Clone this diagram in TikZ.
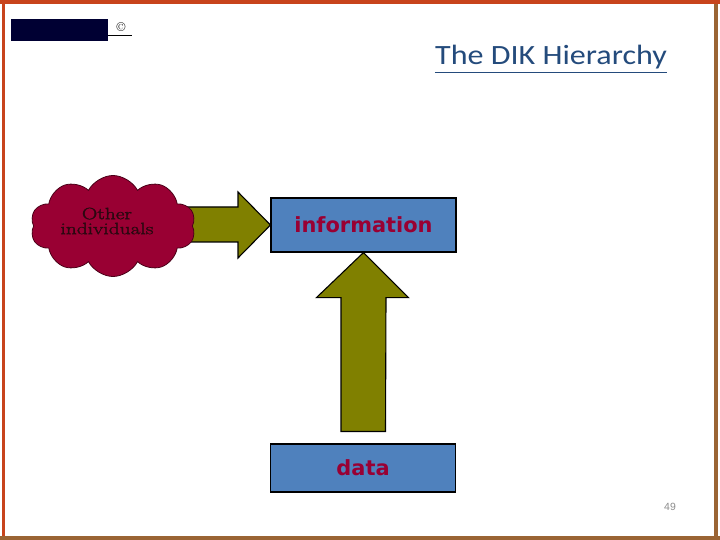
\documentclass[tikz,border=0pt]{standalone}
\usepackage{fontspec}
\usepackage{graphicx}
\usetikzlibrary{shapes.symbols,calc}
\newfontfamily\titlefont[FakeStretch=1.15]{Carlito}
\newfontfamily\boxfont{DejaVu Sans}
\newfontfamily\numfont{Liberation Sans}
\newfontfamily\cloudfont[FakeBold=1.5]{Latin Modern Roman}
\definecolor{frameRed}{HTML}{C8441C}
\definecolor{frameBrown}{HTML}{9A6434}
\definecolor{logoNavy}{HTML}{000033}
\definecolor{titleBlue}{HTML}{244B7C}
\definecolor{crimson}{HTML}{990033}
\definecolor{cloudEdge}{HTML}{4A0018}
\definecolor{cloudText}{HTML}{2A0810}
\definecolor{boxBlue}{HTML}{4F81BD}
\definecolor{arrowOlive}{HTML}{808000}
\definecolor{numGray}{HTML}{8C8C8C}
\tikzset{
  levelbox/.style={draw=black, line width=1.1bp, fill=boxBlue, inner sep=0,
    minimum width=185bp, text=crimson, font=\boxfont\bfseries\fontsize{21}{24}\selectfont},
  blockarrow/.style={fill=arrowOlive, draw=black, line width=1.1bp, line join=miter},
}
\begin{document}
\begin{tikzpicture}[x=1bp,y=-1bp]
\useasboundingbox (0,0) rectangle (720,540);
\fill[white] (0,0) rectangle (720,540);
% frame
\draw[frameRed, line width=4bp] (0,2) -- (720,2);
\draw[frameRed, line width=3.5bp] (3.5,0) -- (3.5,540);
\draw[frameBrown, line width=4bp] (716,4) -- (716,540);
\draw[frameBrown, line width=4bp] (0,537.5) -- (720,537.5);
% logo
\node[fill=logoNavy, minimum width=97bp, minimum height=22bp, inner sep=0, anchor=north west] (logo) at (11,19) {};
\node[inner sep=0] (copy) at (121,27) {\fontsize{13}{13}\selectfont\textcopyright};
\coordinate (ulend) at (132,35.5);
\draw[line width=1.3bp] (logo.east |- ulend) -- (ulend);
% title
\node[inner sep=0, anchor=base, text=titleBlue, font=\titlefont\fontsize{28}{30}\selectfont] (title) at (551,65) {The DIK Hierarchy};
\draw[titleBlue, line width=1.6bp] ($(title.base west)+(0,7.5)$) -- ($(title.base east)+(0,7.5)$);
% boxes
\node[levelbox, minimum height=54bp] (info) at (363.5,225) {information};
\node[levelbox, minimum height=48bp] (data) at (363,468) {data};
% right arrow (behind cloud)
\coordinate (rstart) at (180,224.5);
\draw[blockarrow] ($(rstart)+(0,-17.5)$) -- ($(rstart)+(58,-17.5)$) -- ($(rstart)+(58,-32.5)$)
  -- (info.west) -- ($(rstart)+(58,33.5)$) -- ($(rstart)+(58,17.5)$) -- ($(rstart)+(0,17.5)$) -- cycle;
% cloud
\node[cloud, cloud puffs=10, cloud puff arc=125, aspect=1.6, minimum width=165bp, minimum height=101bp,
  inner sep=0, fill=crimson, draw=cloudEdge, line width=0.8bp] (cloud) at (113,226) {};
\node[align=center, inner sep=0, text=cloudText, font=\cloudfont\fontsize{16.5}{15}\selectfont] (ctext) at (107,221)
  {\scalebox{1.3}[1]{Other}\\\scalebox{1.3}[1]{individuals}};
% up arrow
\draw[blockarrow] (info.south) -- ($(info.south)+(45,45)$) -- ($(info.south)+(22.5,45)$)
  -- ($(data.north)+(22.5,-12)$) -- ($(data.north)+(-22,-12)$) -- ($(info.south)+(-22.5,45)$)
  -- ($(info.south)+(-47,45)$) -- cycle;
% page number
\node[text=numGray, font=\numfont\fontsize{10.5}{12}\selectfont] (pnum) at (670,507) {49};
\end{tikzpicture}
\end{document}
